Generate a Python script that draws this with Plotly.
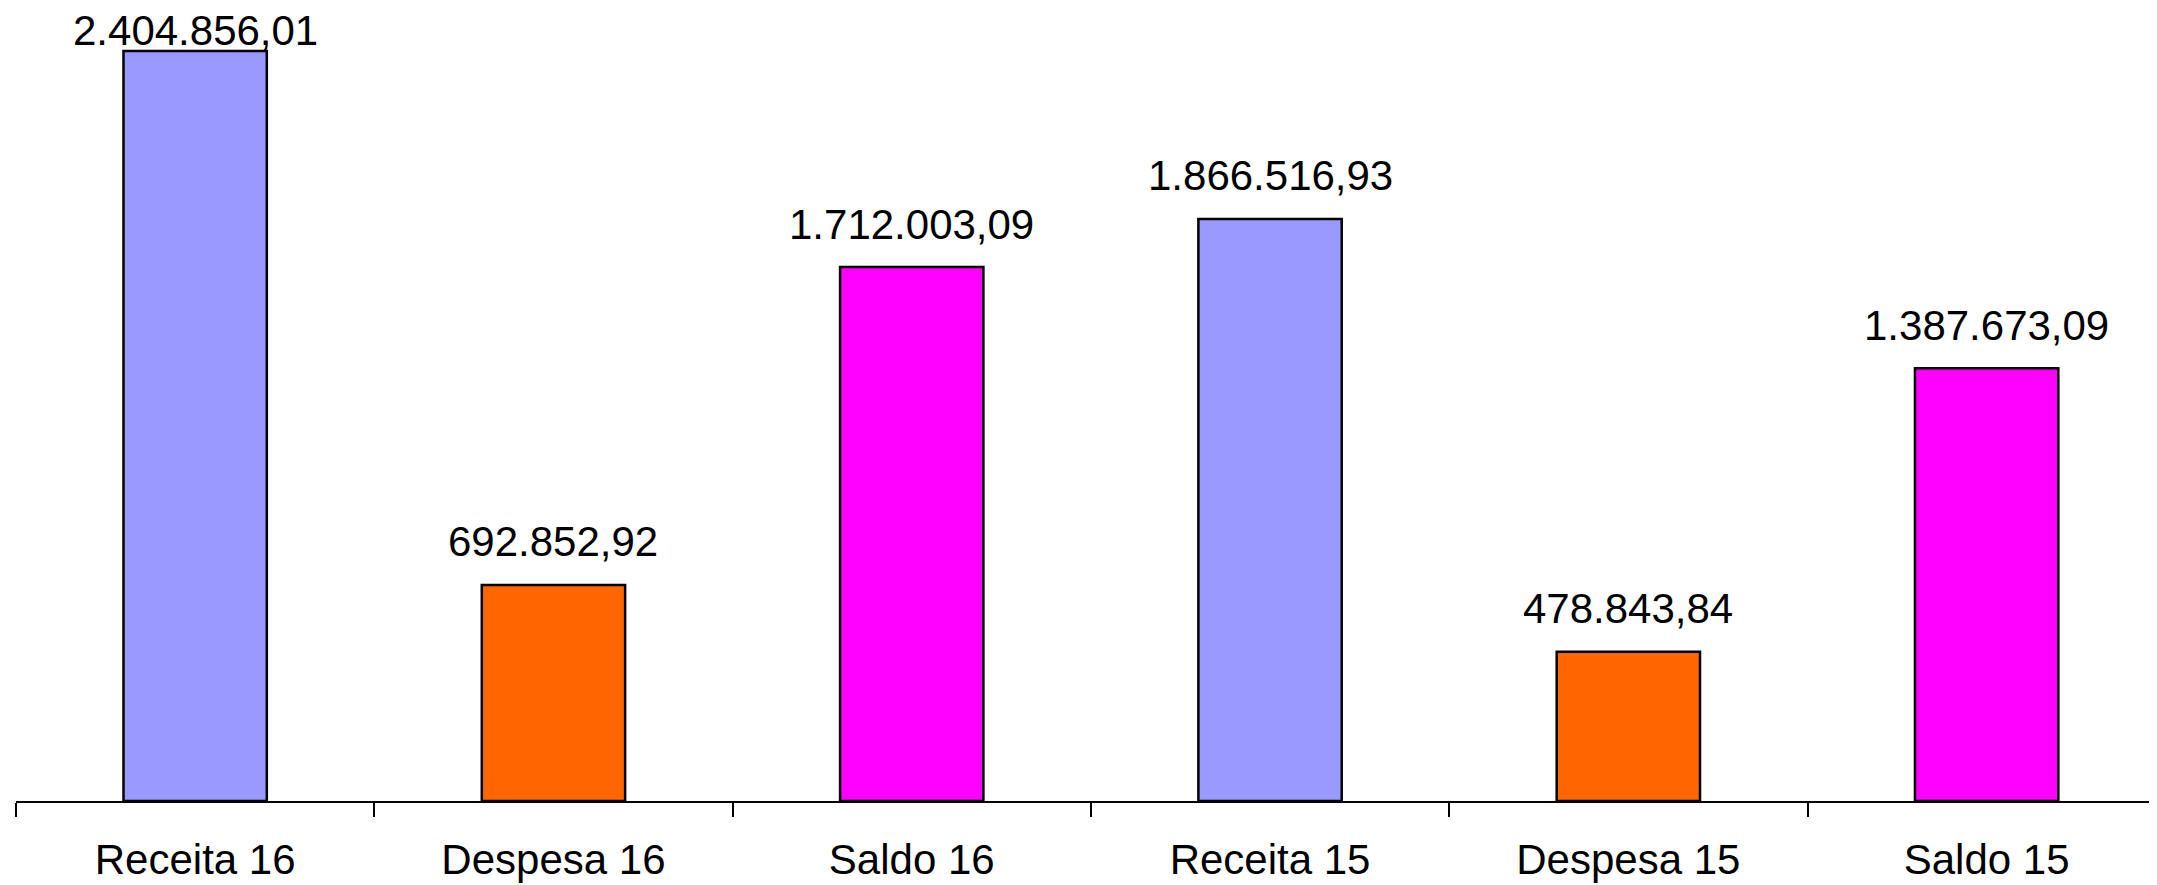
import plotly.graph_objects as go

categories = ["Receita 16", "Despesa 16", "Saldo 16", "Receita 15", "Despesa 15", "Saldo 15"]
values = [2404856.01, 692852.92, 1712003.09, 1866516.93, 478843.84, 1387673.09]
colors = ["#9999FF", "#FF6600", "#FF00FF", "#9999FF", "#FF6600", "#FF00FF"]


def br(v):
    return f"{v:,.2f}".replace(",", "X").replace(".", ",").replace("X", ".")


labels = [br(v) for v in values]

# page body has an 8px margin, so the figure is kept 8px smaller than the window
W, H = 2149, 877
ml, mr, mb = 8, 0, 84
cat_px = 358.3
plot_w = W - ml - mr
plot_h = H - mb
y_top = max(values) * plot_h / 750

fig = go.Figure(
    go.Bar(
        x=categories,
        y=values,
        marker=dict(color=colors, line=dict(color="black", width=2.5)),
        width=0.4,
        hoverinfo="x+y",
    )
)

# value labels, pushed down when they would leave the plot area (like Excel)
for cat, v, lab in zip(categories, values, labels):
    bar_top_px = plot_h * (1 - v / y_top)
    shift = min(43, bar_top_px - 22)
    fig.add_annotation(
        x=cat,
        y=v,
        text=lab,
        showarrow=False,
        yanchor="middle",
        xanchor="center",
        borderpad=0,
        yshift=shift,
        font=dict(size=42, color="black"),
    )

fig.update_layout(
    width=W,
    height=H,
    margin=dict(l=ml, r=mr, t=0, b=mb),
    paper_bgcolor="white",
    plot_bgcolor="white",
    font=dict(family="Liberation Sans, Arial, sans-serif", size=42, color="black"),
    showlegend=False,
)
fig.update_xaxes(
    type="category",
    range=[-0.5, -0.5 + plot_w / cat_px],
    showline=True,
    linecolor="black",
    linewidth=2,
    ticks="outside",
    tickson="boundaries",
    ticklen=14,
    tickwidth=2,
    tickcolor="black",
    showgrid=False,
    tickfont=dict(size=42, color="black"),
    ticklabelstandoff=21,
    automargin=False,
)
fig.update_yaxes(
    range=[0, y_top],
    visible=False,
    showgrid=False,
    zeroline=False,
)

fig.write_html("out.html")
